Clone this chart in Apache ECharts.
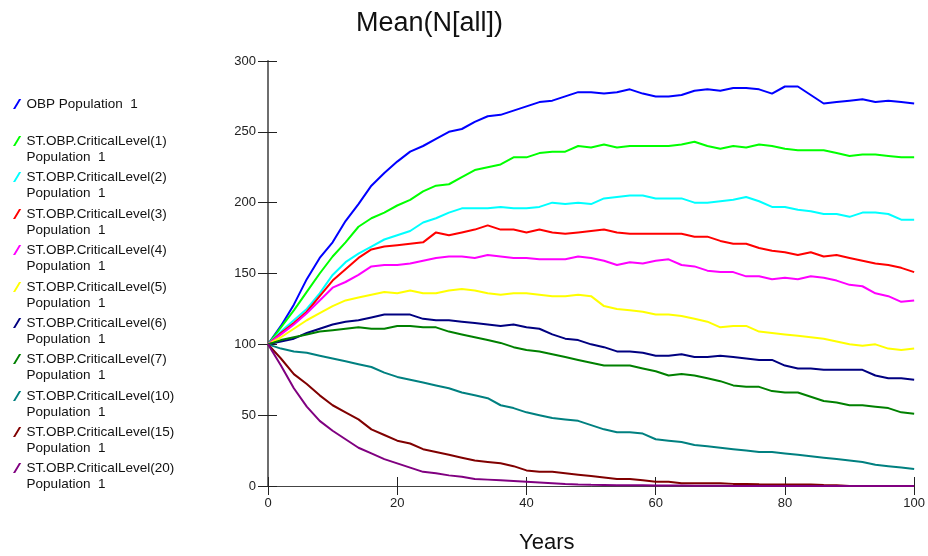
<!DOCTYPE html>
<html>
<head>
<meta charset="utf-8">
<title>Mean(N[all])</title>
<script src="https://cdn.jsdelivr.net/npm/echarts@6/dist/echarts.min.js"></script>
<style>
  html, body { margin: 0; padding: 0; background: #fff; }
  #chart { width: 928px; height: 556px; }
</style>
</head>
<body>
<div id="chart"></div>
<script>
// x values (years), one point every 2 years
const years = [0, 2, 4, 6, 8, 10, 12, 14, 16, 18, 20, 22, 24, 26, 28, 30, 32, 34, 36, 38, 40,
  42, 44, 46, 48, 50, 52, 54, 56, 58, 60, 62, 64, 66, 68, 70, 72, 74, 76, 78, 80,
  82, 84, 86, 88, 90, 92, 94, 96, 98, 100];

const seriesNames = [
  'OBP Population  1',
  'ST.OBP.CriticalLevel(1)\nPopulation  1',
  'ST.OBP.CriticalLevel(2)\nPopulation  1',
  'ST.OBP.CriticalLevel(3)\nPopulation  1',
  'ST.OBP.CriticalLevel(4)\nPopulation  1',
  'ST.OBP.CriticalLevel(5)\nPopulation  1',
  'ST.OBP.CriticalLevel(6)\nPopulation  1',
  'ST.OBP.CriticalLevel(7)\nPopulation  1',
  'ST.OBP.CriticalLevel(10)\nPopulation  1',
  'ST.OBP.CriticalLevel(15)\nPopulation  1',
  'ST.OBP.CriticalLevel(20)\nPopulation  1'
];

const obp = [100, 113, 128, 146, 161, 172, 187, 199, 212, 221, 229, 236, 240, 245, 250, 252, 257, 261, 262, 265, 268,
  271, 272, 275, 278, 278, 277, 278, 280, 277, 275, 275, 276, 279, 280, 279, 281, 281, 280, 277, 282,
  282, 276, 270, 271, 272, 273, 271, 272, 271, 270];
const cl1 = [100, 112, 124, 137, 150, 162, 172, 183, 189, 193, 198, 202, 208, 212, 213, 218, 223, 225, 227, 232, 232,
  235, 236, 236, 240, 239, 241, 239, 240, 240, 240, 240, 241, 243, 240, 238, 240, 239, 241, 240, 238,
  237, 237, 237, 235, 233, 234, 234, 233, 232, 232];
const cl2 = [100, 109, 117, 125, 136, 149, 158, 164, 169, 174, 177, 180, 186, 189, 193, 196, 196, 196, 197, 196, 196,
  197, 200, 199, 200, 199, 203, 204, 205, 205, 203, 203, 203, 200, 200, 201, 202, 204, 201, 197, 197,
  195, 194, 192, 192, 190, 193, 193, 192, 188, 188];
const cl3 = [100, 108, 115, 123, 134, 145, 153, 161, 167, 169, 170, 171, 172, 179, 177, 179, 181, 184, 181, 181, 179,
  181, 179, 178, 179, 180, 181, 179, 178, 178, 178, 178, 178, 176, 176, 173, 171, 171, 168, 166, 165,
  163, 165, 162, 163, 161, 159, 157, 156, 154, 151];
const cl4 = [100, 107, 114, 122, 131, 140, 144, 149, 155, 156, 156, 157, 159, 161, 162, 162, 161, 163, 162, 161, 161,
  160, 160, 160, 162, 161, 159, 156, 158, 157, 159, 160, 156, 155, 152, 151, 151, 148, 148, 146, 147,
  146, 148, 147, 145, 142, 141, 136, 134, 130, 131];
const cl5 = [100, 105, 111, 117, 122, 127, 131, 133, 135, 137, 136, 138, 136, 136, 138, 139, 138, 136, 135, 136, 136,
  135, 134, 134, 135, 134, 127, 125, 124, 123, 121, 121, 120, 118, 116, 112, 113, 113, 109, 108, 107,
  106, 105, 104, 102, 100, 99, 100, 97, 96, 97];
const cl6 = [100, 102, 104, 108, 111, 114, 116, 117, 119, 121, 121, 121, 118, 117, 117, 116, 115, 114, 113, 114, 112,
  111, 107, 104, 103, 100, 98, 95, 95, 94, 92, 92, 93, 91, 91, 92, 91, 90, 89, 89, 85,
  83, 83, 82, 82, 82, 82, 78, 76, 76, 75];
const cl7 = [100, 103, 105, 107, 109, 110, 111, 112, 111, 111, 113, 113, 112, 112, 109, 107, 105, 103, 101, 98, 96,
  95, 93, 91, 89, 87, 85, 85, 85, 83, 81, 78, 79, 78, 76, 74, 71, 70, 70, 67, 66,
  66, 63, 60, 59, 57, 57, 56, 55, 52, 51];
const cl10 = [100, 97, 95, 94, 92, 90, 88, 86, 84, 80, 77, 75, 73, 71, 69, 66, 64, 62, 57, 55, 52,
  50, 48, 47, 46, 43, 40, 38, 38, 37, 33, 32, 31, 29, 28, 27, 26, 25, 24, 24, 23,
  22, 21, 20, 19, 18, 17, 15, 14, 13, 12];
const cl15 = [100, 90, 79, 72, 64, 57, 52, 47, 40, 36, 32, 30, 26, 24, 22, 20, 18, 17, 16, 14, 11,
  10, 10, 9, 8, 7, 6, 5, 5, 4, 3, 3, 2, 2, 2, 2, 1.5, 1.5, 1.2, 1, 1,
  1, 1, 0.7, 0.5, 0, 0, 0, 0, 0, 0];
const cl20 = [100, 85, 69, 56, 46, 39, 33, 27, 23, 19, 16, 13, 10, 9, 7.5, 6.5, 5, 4.5, 4, 3.5, 3,
  2.5, 2, 1.4, 1, 0.8, 0.7, 0.6, 0.5, 0.5, 0.4, 0.3, 0.3, 0.2, 0.2, 0.1, 0, 0, 0, 0, 0,
  0, 0, 0, 0, 0, 0, 0, 0, 0, 0];

const allValues = [obp, cl1, cl2, cl3, cl4, cl5, cl6, cl7, cl10, cl15, cl20];
const colors = ['#0000ff', '#00ff00', '#00ffff', '#ff0000', '#ff00ff', '#ffff00',
  '#000080', '#008000', '#008080', '#800000', '#800080'];

const xTicks = [0, 20, 40, 60, 80, 100];
const yTicks = [0, 50, 100, 150, 200, 250, 300];

const FONT = 'Liberation Sans, Arial, sans-serif';

// vertical centre of each legend icon (first text line)
const legendCentres = [104, 141, 177, 214, 250, 287, 323, 359, 396, 432, 468];
// slash drawn in the top 10 units; the zero-area stub at y=26 stretches the box
// so the slash lines up with the first of two text lines
const slashOne = 'path://M0,10 L6,0 L8.2,0 L2.2,10 Z';
const slashTwo = 'path://M0,10 L6,0 L8.2,0 L2.2,10 Z M0,26 L0,26 Z';

const legends = seriesNames.map((name, i) => {
  const twoLines = name.indexOf('\n') >= 0;
  return {
    data: [name],
    orient: 'vertical',
    left: 13,
    top: legendCentres[i] - 8,
    padding: 0,
    itemWidth: 9,
    itemHeight: twoLines ? 26 : 10,
    icon: twoLines ? slashTwo : slashOne,
    selectedMode: false,
    textStyle: {
      fontFamily: FONT,
      fontSize: 13.5,
      color: '#111',
      lineHeight: 16
    }
  };
});

const series = seriesNames.map((name, i) => ({
  name: name,
  type: 'line',
  showSymbol: false,
  symbol: 'none',
  color: colors[i],
  lineStyle: { width: 2, color: colors[i] },
  data: years.map((yr, k) => [yr, allValues[i][k]])
}));

const xBase = {
  type: 'value', min: xTicks[0], max: xTicks[xTicks.length - 1], interval: 20,
  position: 'bottom', offset: 0, splitLine: { show: false }
};
const yBase = {
  type: 'value', min: yTicks[0], max: yTicks[yTicks.length - 1], interval: 50,
  position: 'left', offset: 0, splitLine: { show: false }
};

const chart = echarts.init(document.getElementById('chart'), null, { renderer: 'canvas' });
chart.setOption({
  animation: false,
  backgroundColor: '#fff',
  title: [
    {
      text: 'Mean(N[all])', left: 356, top: 10, padding: 0,
      textStyle: { fontFamily: FONT, fontSize: 27, fontWeight: 'normal', color: '#111' }
    },
    {
      text: 'Years', left: 519, top: 532, padding: 0,
      textStyle: { fontFamily: FONT, fontSize: 22, fontWeight: 'normal', color: '#111' }
    }
  ],
  legend: legends,
  grid: { left: 268, right: 13, top: 61, bottom: 70, containLabel: false },
  xAxis: [
    Object.assign({}, xBase, {
      axisLine: { onZero: false, lineStyle: { color: '#444', width: 1 } },
      axisTick: { inside: false, length: 9, lineStyle: { color: '#222', width: 1 } },
      axisLabel: { margin: 11, fontFamily: FONT, fontSize: 13, color: '#222' }
    }),
    Object.assign({}, xBase, {
      axisLine: { show: false, onZero: false },
      axisTick: { inside: true, length: 9, lineStyle: { color: '#222', width: 1 } },
      axisLabel: { show: false }
    })
  ],
  yAxis: [
    Object.assign({}, yBase, {
      axisLine: { show: true, onZero: false, lineStyle: { color: '#6e6e6e', width: 2 } },
      axisTick: { show: true, inside: false, length: 10, lineStyle: { color: '#222', width: 1 } },
      axisLabel: { margin: 12, fontFamily: FONT, fontSize: 13, color: '#222' }
    }),
    Object.assign({}, yBase, {
      axisLine: { show: false, onZero: false },
      axisTick: { show: true, inside: true, length: 9, lineStyle: { color: '#222', width: 1 } },
      axisLabel: { show: false }
    })
  ],
  series: series
});
</script>
</body>
</html>
